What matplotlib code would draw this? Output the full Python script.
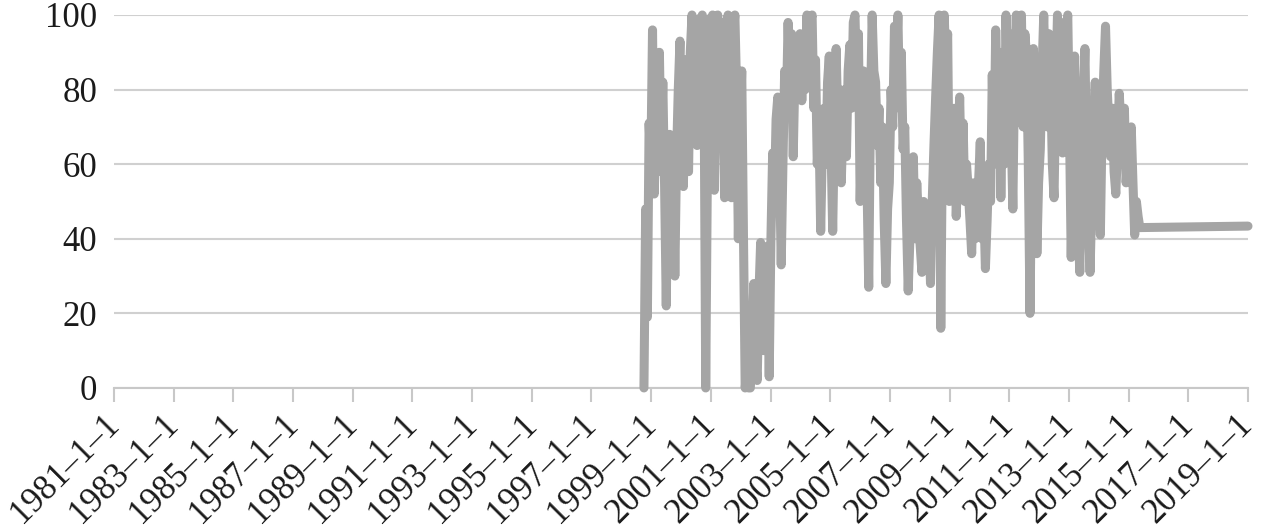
import pandas as pd
import matplotlib.pyplot as plt

start_date = '1998-10-05'
step = '21D'
values = [0, 48, 19, 71, 60, 96, 52, 70, 58, 90,
          62, 82, 55, 22, 60, 68, 58, 65, 30, 62,
          80, 93, 62, 54, 88, 60, 58, 90, 100, 70,
          98, 65, 99, 75, 100, 85, 0, 60, 99, 75,
          100, 53, 85, 100, 68, 98, 80, 51, 90, 100,
          70, 51, 95, 100, 80, 40, 70, 85, 41, 0,
          5, 0, 0, 12, 28, 8, 2, 25, 39, 20,
          10, 30, 38, 3, 40, 63, 50, 72, 78, 60,
          33, 60, 85, 75, 98, 80, 95, 62, 85, 90,
          78, 95, 77, 92, 80, 100, 85, 98, 100, 75,
          88, 60, 70, 42, 65, 75, 60, 82, 89, 65,
          42, 70, 91, 70, 80, 55, 72, 80, 62, 85,
          92, 75, 98, 100, 80, 95, 50, 70, 85, 60,
          55, 27, 75, 100, 85, 82, 65, 75, 55, 70,
          45, 28, 48, 55, 80, 70, 97, 85, 100, 75,
          90, 64, 70, 45, 26, 40, 50, 62, 40, 55,
          45, 38, 31, 50, 46, 38, 45, 28, 50, 65,
          78, 90, 100, 16, 70, 100, 85, 95, 50, 70,
          55, 75, 46, 60, 78, 55, 71, 50, 60, 53,
          45, 36, 55, 40, 45, 55, 66, 40, 50, 32,
          45, 60, 50, 84, 60, 96, 75, 90, 51, 80,
          60, 100, 75, 95, 70, 48, 85, 100, 80, 98,
          100, 70, 95, 89, 60, 20, 62, 91, 70, 36,
          55, 64, 85, 100, 80, 70, 95, 83, 60, 51,
          80, 100, 85, 98, 63, 80, 95, 100, 70, 35,
          60, 89, 65, 45, 31, 55, 75, 91, 60, 45,
          31, 50, 70, 82, 60, 55, 41, 70, 85, 97,
          80, 70, 62, 75, 58, 52, 65, 79, 70, 60,
          75, 55, 62, 58, 70, 55, 41, 50, 46, 43]
end_date = '2019-01-01'
end_value = 43.4

tick_dates = pd.date_range('1981-01-01', '2019-01-01', freq='2YS')
tick_labels = [f'{d.year}\u20131\u20131' for d in tick_dates]

x = list(pd.date_range(start_date, periods=len(values), freq=step)) + [pd.Timestamp(end_date)]
y = values + [end_value]

plt.rcParams['font.family'] = ['Liberation Serif', 'DejaVu Serif']

fig = plt.figure(figsize=(12.61, 5.30), dpi=100)
ax = fig.add_axes([0.0904, 0.268, 0.8993, 0.7037])

ax.plot(x, y, color='#a5a5a5', linewidth=6.5,
        solid_joinstyle='round', solid_capstyle='round', clip_on=False, zorder=3)

ax.set_ylim(0, 100)
ax.set_yticks([0, 20, 40, 60, 80, 100])
ax.set_xlim(pd.Timestamp('1981-01-01'), pd.Timestamp('2019-01-01'))
ax.set_xticks(tick_dates)
ax.set_xticklabels(tick_labels, rotation=45, ha='right', va='center', rotation_mode='anchor')

ax.grid(axis='y', color='#d0d0d0', linewidth=1.5)
ax.set_axisbelow(True)
for s in ['top', 'right', 'left']:
    ax.spines[s].set_visible(False)
ax.spines['bottom'].set_color('#c8c8c8')
ax.spines['bottom'].set_linewidth(1.5)

ax.tick_params(axis='y', length=0, pad=12, labelsize=25, labelcolor='#1a1a1a')
ax.tick_params(axis='x', length=10, width=1.5, color='#c8c8c8', pad=13, labelsize=25,
               labelcolor='#1a1a1a')

plt.savefig('out.png', dpi=100)
